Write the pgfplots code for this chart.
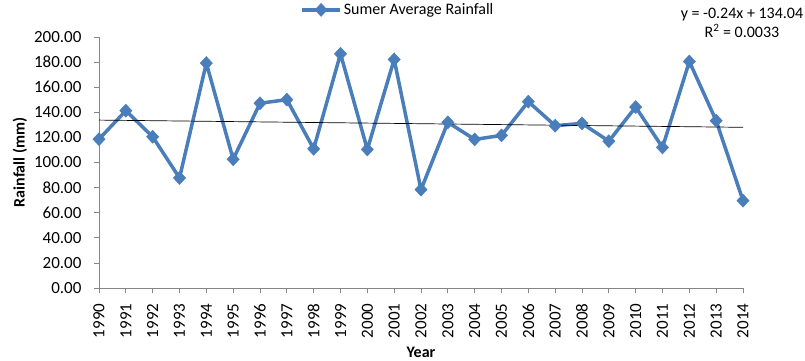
\documentclass[border=0pt]{standalone}
\usepackage{fontspec}
\setmainfont{Carlito}
\usepackage{pgfplots}
\pgfplotsset{compat=1.18}
\definecolor{serblue}{HTML}{4A7EBB}
\definecolor{axgray}{HTML}{868686}
\begin{document}
\begin{tikzpicture}
\path[use as bounding box] (-99pt,-72pt) rectangle (706pt,288pt);
\begin{axis}[
  scale only axis,
  width=644pt, height=251pt,
  xmin=1990, xmax=2014,
  ymin=0, ymax=200,
  xtick={1990,1991,...,2014},
  ytick={0,20,...,200},
  axis lines=left,
  axis line style={-, draw=axgray, line width=0.8pt},
  tick align=outside,
  major tick length=5pt,
  every tick/.style={draw=axgray, line width=0.8pt},
  /pgf/number format/assume math mode=true,
  font=\fontsize{17}{17}\selectfont,
  yticklabel shift=9pt,
  xticklabel shift=7pt,
  yticklabel style={/pgf/number format/.cd, fixed, fixed zerofill, precision=2},
  xticklabel={\pgfmathprintnumber[/pgf/number format/.cd,fixed,precision=0,1000 sep={}]{\tick}},
  xticklabel style={rotate=90, anchor=east},
  ylabel={\bfseries Rainfall (mm)},
  ylabel style={at={(axis description cs:-0.1227,0.5)}, anchor=center, font=\fontsize{16}{16}\selectfont},
  xlabel={\bfseries Year},
  xlabel style={at={(axis description cs:0.5,-0.255)}, anchor=center, font=\fontsize{16}{16}\selectfont},
  legend style={at={(axis description cs:0.464,1.108)}, anchor=center, draw=none, fill=none,
    font=\fontsize{16}{16}\selectfont, inner sep=0pt},
  legend image code/.code={\draw[mark repeat=2,mark phase=2,#1] plot coordinates {(0cm,0cm) (0.67cm,0cm) (1.34cm,0cm)};},
  clip=false,
]
\addplot[serblue, line width=3.5pt, mark=diamond*, mark size=6.5pt, mark options={solid, fill=serblue, draw=serblue, line width=0.5pt, xscale=1.25}]
coordinates {
(1990,118.6) (1991,141.3) (1992,120.5) (1993,87.7) (1994,179.2)
(1995,102.6) (1996,147.2) (1997,150.1) (1998,110.9) (1999,186.6)
(2000,110.4) (2001,182.1) (2002,78.4) (2003,132.0) (2004,118.4)
(2005,121.6) (2006,148.5) (2007,129.3) (2008,131.2) (2009,117.0)
(2010,144.2) (2011,112.0) (2012,180.5) (2013,133.3) (2014,69.6)
};
\addlegendentry{Sumer Average Rainfall}
\addplot[black, line width=0.7pt, forget plot] coordinates {(1990,133.80) (2014,128.04)};
\node[anchor=center, font=\fontsize{16}{16}\selectfont] at (axis description cs:0.9984,1.0876) {y = -0.24x + 134.04};
\node[anchor=center, font=\fontsize{16}{16}\selectfont] at (axis description cs:0.9984,1.024) {R\textsuperscript{2} = 0.0033};
\end{axis}
\end{tikzpicture}
\end{document}
